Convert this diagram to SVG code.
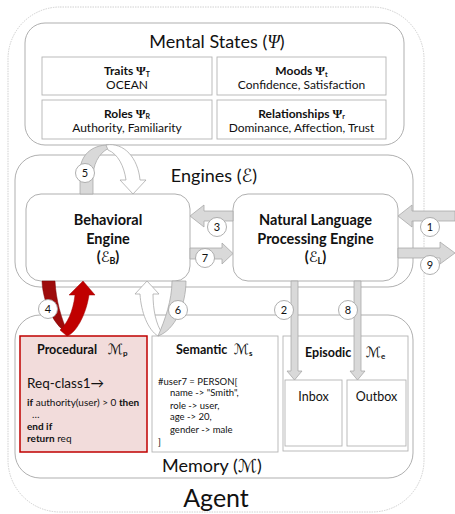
<svg xmlns="http://www.w3.org/2000/svg" width="455" height="514" viewBox="0 0 455 514">
  <style>
    text { font-family: Lato, "Open Sans", "DejaVu Sans", sans-serif; fill: #111; }
    .title { font-size: 18px; }
    .cell { font-size: 12px; text-anchor: middle; }
    .b { font-weight: bold; }
    .eng { font-size: 14.5px; font-weight: bold; text-anchor: middle; }
    .sym { font-family: "Liberation Serif", "DejaVu Serif", serif; }
    .scr { font-family: "DejaVu Serif", "DejaVu Sans", serif; font-style: italic; }
    .code { font-size: 9.5px; }
    .box { fill: #fff; stroke: #a6a6a6; stroke-width: 0.9; }
    .cellbox { fill: #fff; stroke: #b4b4b4; stroke-width: 0.9; }
    .flow { fill: #d9d9d9; stroke: #a6a6a6; stroke-width: 0.75; }
    .flowW { fill: #fff; stroke: #a6a6a6; stroke-width: 0.75; }
    .num circle { fill: #fff; stroke: #a6a6a6; stroke-width: 0.9; }
    .num text { font-size: 11px; text-anchor: middle; }
  </style>

  <!-- Agent boundary -->
  <g id="agent">
    <rect x="8" y="7" width="416" height="505" rx="52" fill="#fff" stroke="#c4c4c4" stroke-width="0.8" stroke-dasharray="1.5 1"/>
    <text x="216" y="507" font-size="25" text-anchor="middle">Agent</text>
  </g>

  <!-- Mental states -->
  <g id="mental-states">
    <rect class="box" x="25" y="23" width="379" height="122" rx="20"/>
    <text class="title" x="217" y="48" text-anchor="middle">Mental States (<tspan class="sym" font-style="italic">Ψ</tspan>)</text>
  </g>
  <g id="traits">
    <rect class="cellbox" x="42" y="57" width="170" height="38"/>
    <text class="cell" x="127" y="75"><tspan class="b">Traits </tspan><tspan class="sym b" font-size="12.5">Ψ</tspan><tspan class="b" font-size="7" dy="1.5">T</tspan></text>
    <text class="cell" x="127" y="89">OCEAN</text>
  </g>
  <g id="moods">
    <rect class="cellbox" x="217" y="57" width="169" height="38"/>
    <text class="cell" x="301.5" y="75"><tspan class="b">Moods </tspan><tspan class="sym b" font-size="12.5">Ψ</tspan><tspan class="b" font-size="7" dy="1.5">t</tspan></text>
    <text class="cell" x="301.5" y="89">Confidence, Satisfaction</text>
  </g>
  <g id="roles">
    <rect class="cellbox" x="42" y="100" width="170" height="39"/>
    <text class="cell" x="127" y="117.5"><tspan class="b">Roles </tspan><tspan class="sym b" font-size="12.5">Ψ</tspan><tspan class="b" font-size="7" dy="1.5">R</tspan></text>
    <text class="cell" x="127" y="132">Authority, Familiarity</text>
  </g>
  <g id="relationships">
    <rect class="cellbox" x="217" y="100" width="169" height="39"/>
    <text class="cell" x="301.5" y="117.5"><tspan class="b">Relationships </tspan><tspan class="sym b" font-size="12.5">Ψ</tspan><tspan class="b" font-size="7" dy="1.5">r</tspan></text>
    <text class="cell" x="301.5" y="132">Dominance, Affection, Trust</text>
  </g>

  <!-- Engines -->
  <g id="engines">
    <rect class="box" x="15" y="155" width="398" height="132" rx="25"/>
    <text class="title" x="214" y="182" text-anchor="middle">Engines (<tspan class="scr">ℰ</tspan>)</text>
  </g>
  <g id="behavioral-engine">
    <rect class="box" x="26" y="194" width="164" height="87" rx="15"/>
    <text class="eng" x="108" y="225">Behavioral</text>
    <text class="eng" x="108" y="244">Engine</text>
    <text class="eng" x="108" y="262">(<tspan class="scr" font-weight="normal">ℰ</tspan><tspan font-size="9" dy="2">B</tspan><tspan dy="-2">)</tspan></text>
  </g>
  <g id="nlp-engine">
    <rect class="box" x="233" y="194" width="165" height="87" rx="15"/>
    <text class="eng" x="315.5" y="225">Natural Language</text>
    <text class="eng" x="315.5" y="244">Processing Engine</text>
    <text class="eng" x="315.5" y="262">(<tspan class="scr" font-weight="normal">ℰ</tspan><tspan font-size="9" dy="2">L</tspan><tspan dy="-2">)</tspan></text>
  </g>

  <!-- Memory -->
  <g id="memory">
    <rect class="box" x="15" y="315" width="398" height="163" rx="25"/>
    <text class="title" x="212" y="472" text-anchor="middle">Memory (<tspan class="scr">ℳ</tspan>)</text>
  </g>
  <g id="procedural">
    <rect x="20" y="336" width="127" height="116" fill="#f2dcdb" stroke="#c00000" stroke-width="1.5"/>
    <text x="37" y="354" font-size="12.5" class="b">Procedural</text>
    <text x="108" y="354" font-size="14" class="scr">ℳ<tspan font-family="Lato, sans-serif" font-style="normal" font-weight="bold" font-size="8" dy="2">p</tspan></text>
    <text x="27" y="388" font-size="13.5">Req-class1→</text>
    <text x="27" y="406" font-size="10"><tspan class="b">if</tspan> authority(user) &gt; 0 <tspan class="b">then</tspan></text>
    <text x="32" y="418" font-size="10">…</text>
    <text x="27" y="430" font-size="10" class="b">end if</text>
    <text x="27" y="442" font-size="10"><tspan class="b">return</tspan> req</text>
  </g>
  <g id="semantic">
    <rect class="cellbox" x="152" y="336" width="126" height="116"/>
    <text x="176" y="354" font-size="12.5" class="b">Semantic</text>
    <text x="234" y="354" font-size="14" class="scr">ℳ<tspan font-family="Lato, sans-serif" font-style="normal" font-weight="bold" font-size="8" dy="2">s</tspan></text>
    <text class="code" x="158" y="385">#user7 = PERSON[</text>
    <text class="code" x="170" y="396">name -&gt; "Smith",</text>
    <text class="code" x="170" y="408.5">role -&gt; user,</text>
    <text class="code" x="170" y="420">age -&gt; 20,</text>
    <text class="code" x="170" y="432.5">gender -&gt; male</text>
    <text class="code" x="158" y="444.5">]</text>
  </g>
  <g id="episodic">
    <rect class="cellbox" x="283" y="336" width="125" height="115"/>
    <text x="305" y="357" font-size="12.5" class="b">Episodic</text>
    <text x="366" y="357" font-size="14" class="scr">ℳ<tspan font-family="Lato, sans-serif" font-style="normal" font-weight="bold" font-size="8" dy="2">e</tspan></text>
  </g>
  <g id="inbox">
    <rect class="cellbox" x="285" y="380" width="57" height="66"/>
    <text x="313.5" y="401" font-size="12.5" text-anchor="middle">Inbox</text>
  </g>
  <g id="outbox">
    <rect class="cellbox" x="347" y="380" width="59" height="66"/>
    <text x="376.5" y="401" font-size="12.5" text-anchor="middle">Outbox</text>
  </g>

  <!-- Connectors -->
  <g id="connectors">
    <!-- 1: external input into NLP engine -->
    <path class="flow" d="M455,211 L412,211 L412,205 L398,216 L412,227 L412,221 L455,221 Z"/>
    <!-- 9: NLP engine output -->
    <path class="flow" d="M398,248 L440,248 L440,242 L455,253 L440,264 L440,258 L398,258 Z"/>
    <!-- 3: NLP -> behavioral -->
    <path class="flow" d="M233,211 L204,211 L204,205 L190,216 L204,227 L204,221 L233,221 Z"/>
    <!-- 7: behavioral -> NLP -->
    <path class="flow" d="M190,248 L222,248 L222,243 L233,253.5 L222,264 L222,259 L190,259 Z"/>
    <!-- 2: NLP -> inbox -->
    <path class="flow" d="M291,281 L291,371 L287,371 L294.5,380 L302,371 L298,371 L298,281 Z"/>
    <!-- 8: NLP -> outbox -->
    <path class="flow" d="M354,281 L354,371 L350,371 L357.5,380 L365,371 L361,371 L361,281 Z"/>
    <!-- 5: behavioral -> mental states -> behavioral -->
    <path class="flow" d="M80,194 L80,172 C80,155 92,145 108,145 L112,147 C102,150 94,160 93,175 L93,194 Z"/>
    <path class="flowW" d="M106,145 C124,142 138,158 140,180 L146,180 L133,194 L120,180 L126,180 C124,166 118,154 108,150 Z"/>
    <!-- 6: semantic memory -> behavioral -->
    <path class="flowW" d="M158,336 C148,330 141,312 140,294 L135,294 L147,281 L159,294 L153,294 C153,310 156,324 162,333 Z"/>
    <path class="flow" d="M172,281 L186,281 C186,305 175,330 158,336 C165,320 172,300 172,281 Z"/>
    <!-- 4: behavioral <-> procedural memory -->
    <path d="M42,281 L55,281 C56,300 61,318 68,333 C56,328 43,305 42,281 Z" fill="#9e0b0b" stroke="#7a0000" stroke-width="0.5"/>
    <path d="M67,336 C76,333 86,315 89,295 L95,295 L83,281 L69,295 L75,295 C73,312 67,324 60,330 Z" fill="#c00000" stroke="#a00000" stroke-width="0.5"/>
  </g>

  <!-- Step numbers -->
  <g id="step-numbers" class="num">
    <circle cx="430" cy="227" r="9.5"/><text x="430" y="231">1</text>
    <circle cx="284" cy="310" r="9.5"/><text x="284" y="314">2</text>
    <circle cx="217" cy="227" r="9.5"/><text x="217" y="231">3</text>
    <circle cx="48" cy="309" r="9.5"/><text x="48" y="313">4</text>
    <circle cx="85" cy="173" r="9.5"/><text x="85" y="177">5</text>
    <circle cx="178" cy="310" r="9.5"/><text x="178" y="314">6</text>
    <circle cx="205" cy="258" r="9.5"/><text x="205" y="262">7</text>
    <circle cx="348" cy="310" r="9.5"/><text x="348" y="314">8</text>
    <circle cx="430" cy="265" r="9.5"/><text x="430" y="269">9</text>
  </g>
</svg>
